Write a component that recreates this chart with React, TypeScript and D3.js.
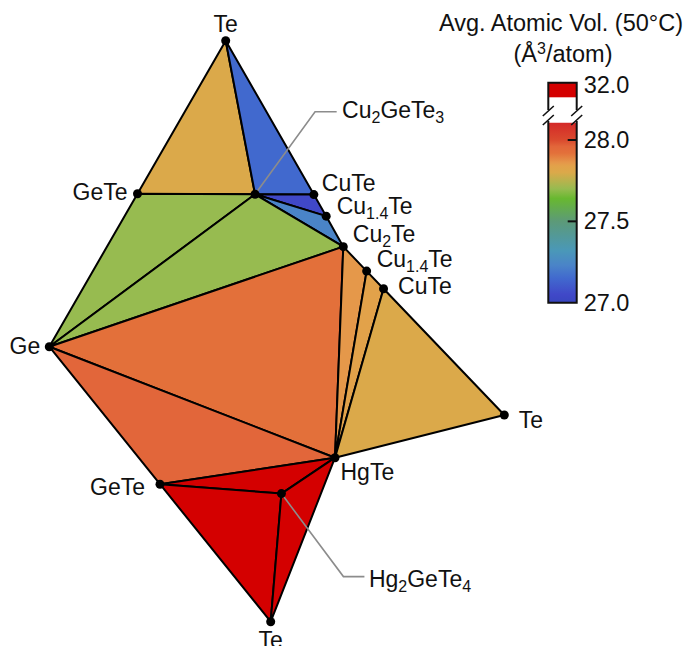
import React from "react";
import * as d3 from "d3";

// ---------- data ----------
// Phases shown on the unfolded Cu–Ge–Hg–Te composition diagram.
// Each node lives on one ternary face; composition is given as fractions of that face's corners.
const nodeIds = ["TeA", "GeTeA", "Cu2GeTe3", "CuTeA", "Cu14TeA", "Ge", "Cu2Te", "Cu14TeB", "CuTeB", "TeB", "HgTe", "GeTeC", "Hg2GeTe4", "TeC"];
const nodeLabels = ["Te", "GeTe", "Cu_{2}GeTe_{3}", "CuTe", "Cu_{1.4}Te", "Ge", "Cu_{2}Te", "Cu_{1.4}Te", "CuTe", "Te", "HgTe", "GeTe", "Hg_{2}GeTe_{4}", "Te"];
const nodeFaces = ["GeTeCu", "GeTeCu", "GeTeCu", "GeTeCu", "GeTeCu", "GeTeCu", "HgTeCu", "HgTeCu", "HgTeCu", "HgTeCu", "HgTeCu", "GeTeHg", "GeTeHg", "GeTeHg"];
const nodeCompositions: number[][] = [
  [0, 1, 0],
  [0.5, 0.5, 0],
  [1 / 6, 0.5, 1 / 3],
  [0, 0.5, 0.5],
  [0, 0.43, 0.57],
  [1, 0, 0],
  [0, 1 / 3, 2 / 3],
  [0, 0.43, 0.57],
  [0, 0.5, 0.5],
  [0, 1, 0],
  [0.5, 0.5, 0],
  [0.5, 0.5, 0],
  [0.12, 0.59, 0.29],
  [0, 1, 0],
];

// Phase-field triangles and their average atomic volume (Å^3/atom, 50 °C)
const regionNodes: string[][] = [
  ["TeA", "GeTeA", "Cu2GeTe3"],
  ["TeA", "Cu2GeTe3", "CuTeA"],
  ["Cu2GeTe3", "CuTeA", "Cu14TeA"],
  ["Cu2GeTe3", "Cu14TeA", "Cu2Te"],
  ["GeTeA", "Cu2GeTe3", "Ge"],
  ["Ge", "Cu2GeTe3", "Cu2Te"],
  ["Ge", "Cu2Te", "HgTe"],
  ["Ge", "HgTe", "GeTeC"],
  ["Cu2Te", "Cu14TeB", "HgTe"],
  ["Cu14TeB", "CuTeB", "HgTe"],
  ["CuTeB", "TeB", "HgTe"],
  ["GeTeC", "HgTe", "Hg2GeTe4"],
  ["GeTeC", "Hg2GeTe4", "TeC"],
  ["Hg2GeTe4", "HgTe", "TeC"],
];
const regionVolumes = [27.8, 27.15, 27.05, 27.23, 27.7, 27.7, 27.92, 27.96, 27.86, 27.84, 27.8, 32.0, 32.0, 32.0];

// Colour map for the volume scale
const colorStopValues = [27.0, 27.05, 27.15, 27.23, 27.32, 27.5, 27.64, 27.7, 27.8, 27.84, 27.86, 27.92, 27.96, 28.0, 28.11];
const colorStopColors = ["#3846bf", "#4048c8", "#4169ce", "#4a84c8", "#4a98b8", "#5c9a78", "#68b830", "#97bb50", "#dba94a", "#e2a24a", "#e5984a", "#e3703a", "#e2663a", "#da4a2e", "#d42828"];
const breakValue = 32.0;
const breakColor = "#d40000";
const tickValues = [27.0, 27.5, 28.0];
const tickLabels = ["27.0", "27.5", "28.0"];
const breakLabel = "32.0";

// ---------- layout ----------
const FONT = "'Liberation Sans', Arial, Helvetica, sans-serif";
const FS = 23;
const SUB_FS = 16;
const SUB_DY = 5;
const CB_FS = 23.5;

// corner pixel positions of each ternary face: [first element, Te, third element]
const faceCorners: Record<string, [number, number][]> = {
  GeTeCu: [[49.3, 346.7], [225.7, 40.7], [402, 348.5]],
  HgTeCu: [[165.7, 500.4], [504.3, 415], [262.8, 162.5]],
  GeTeHg: [[49.3, 346.7], [270.7, 621.7], [399.3, 293.7]],
};

// label placement relative to its node: [dx, dy, anchor]
const labelOffsets: Record<string, [number, number, string]> = {
  TeA: [0, -9, "middle"],
  GeTeA: [-10, 6, "end"],
  Cu2GeTe3: [87, -76, "start"],
  CuTeA: [8, -4, "start"],
  Cu14TeA: [10.5, -2, "start"],
  Ge: [-9, 7, "end"],
  Cu2Te: [9.5, -5, "start"],
  Cu14TeB: [10, -4, "start"],
  CuTeB: [14.5, 5, "start"],
  TeB: [14.5, 13, "start"],
  HgTe: [5.5, 22, "start"],
  GeTeC: [-15, 11, "end"],
  Hg2GeTe4: [87.5, 93, "start"],
  TeC: [0, 26.5, "middle"],
};
// leader lines: elbow and end offsets relative to node
const leaders: Record<string, [number, number][]> = {
  Cu2GeTe3: [[60, -82.6], [81.6, -82.6]],
  Hg2GeTe4: [[62, 83], [83, 83]],
};

const cbX = 548.3;
const cbW = 28.4;
const cbTop = 82.7;
const cbBreakBlockBottom = 97.3;
const cbGradTopValue = 28.106;

function ternary(face: string) {
  const [a, b, c] = faceCorners[face];
  return (f: number[]): [number, number] => [
    f[0] * a[0] + f[1] * b[0] + f[2] * c[0],
    f[0] * a[1] + f[1] * b[1] + f[2] * c[1],
  ];
}

function Formula({ text, x, y, anchor }: { text: string; x: number; y: number; anchor: string }) {
  const parts = text.split(/(_\{[^}]*\})/).filter(Boolean);
  let shifted = false;
  return (
    <text x={x} y={y} textAnchor={anchor} fontSize={FS} fontFamily={FONT} fill="#111">
      {parts.map((p, i) => {
        const sub = p.startsWith("_{");
        const content = sub ? p.slice(2, -1) : p;
        let dy = 0;
        if (sub && !shifted) {
          dy = SUB_DY;
          shifted = true;
        } else if (!sub && shifted) {
          dy = -SUB_DY;
          shifted = false;
        }
        return (
          <tspan key={i} dy={dy} fontSize={sub ? SUB_FS : FS}>
            {content}
          </tspan>
        );
      })}
    </text>
  );
}

export default function App() {
  const pos: Record<string, [number, number]> = {};
  nodeIds.forEach((id, i) => {
    pos[id] = ternary(nodeFaces[i])(nodeCompositions[i]);
  });

  const color = d3
    .scaleLinear<string>()
    .domain(colorStopValues)
    .range(colorStopColors)
    .interpolate(d3.interpolateRgb)
    .clamp(true);
  const fillFor = (v: number) => (v >= breakValue - 1 ? breakColor : color(v));

  const line = d3.line().curve(d3.curveLinearClosed);
  const open = d3.line();

  const cbY = d3.scaleLinear().domain([27, 28]).range([302.7, 140]);
  const gradTop = cbY(cbGradTopValue);
  const cbBottom = cbY(27);
  const cbRight = cbX + cbW;
  const gradStops = colorStopValues.filter((v) => v <= cbGradTopValue).concat([cbGradTopValue]);

  const slash = (x: number, y: number) => `M${x - 5.5},${y + 5}L${x + 5.5},${y - 5}`;
  const breakA = 110;
  const breakB = 121;

  return (
    <svg width={686} height={646} style={{ position: "absolute", left: 0, top: 0, background: "#fff" }}>
      <defs>
        <linearGradient id="volGrad" x1="0" y1="1" x2="0" y2="0">
          {gradStops.map((v, i) => (
            <stop key={i} offset={(v - 27) / (cbGradTopValue - 27)} stopColor={color(v)} />
          ))}
        </linearGradient>
      </defs>

      {/* phase-field triangles */}
      <g strokeLinejoin="round">
        {regionNodes.map((ids, i) => (
          <path
            key={i}
            d={line(ids.map((id) => pos[id])) as string}
            fill={fillFor(regionVolumes[i])}
            stroke="#000"
            strokeWidth={2}
          />
        ))}
      </g>

      {/* leader lines */}
      {Object.entries(leaders).map(([id, pts]) => {
        const [nx, ny] = pos[id];
        const path = [[nx, ny] as [number, number]].concat(pts.map(([dx, dy]) => [nx + dx, ny + dy] as [number, number]));
        return <path key={id} d={open(path) as string} fill="none" stroke="#8c8c8c" strokeWidth={1.6} />;
      })}

      {/* phase points */}
      {nodeIds.map((id) => (
        <circle key={id} cx={pos[id][0]} cy={pos[id][1]} r={4.5} fill="#000" />
      ))}

      {/* phase labels */}
      {nodeIds.map((id, i) => {
        const [dx, dy, anchor] = labelOffsets[id];
        return <Formula key={id} text={nodeLabels[i]} x={pos[id][0] + dx} y={pos[id][1] + dy} anchor={anchor} />;
      })}

      {/* colour bar */}
      <g>
        <text x={561} y={31} textAnchor="middle" fontSize={CB_FS} fontFamily={FONT} fill="#111">
          Avg. Atomic Vol. (50°C)
        </text>
        <text x={563} y={62} textAnchor="middle" fontSize={CB_FS} fontFamily={FONT} fill="#111">
          (Å<tspan dy={-8} fontSize={16}>3</tspan>
          <tspan dy={8}>/atom)</tspan>
        </text>

        <rect x={cbX} y={cbTop} width={cbW} height={cbBreakBlockBottom - cbTop} fill={breakColor} />
        <rect x={cbX} y={gradTop} width={cbW} height={cbBottom - gradTop} fill="url(#volGrad)" />
        <path
          d={`M${cbX},${breakA}V${cbTop}H${cbRight}V${breakA}M${cbX},${breakB}V${cbBottom}H${cbRight}V${breakB}`}
          fill="none"
          stroke="#111"
          strokeWidth={2}
        />
        {[cbX, cbRight].map((x) => (
          <path key={x} d={slash(x, breakA + 1) + slash(x, breakB - 1)} stroke="#111" strokeWidth={1.6} fill="none" />
        ))}
        {tickValues.map((v, i) => (
          <g key={v}>
            {v > 27 && <line x1={cbRight - 9} x2={cbRight} y1={cbY(v)} y2={cbY(v)} stroke="#111" strokeWidth={2} />}
            <text x={cbRight + 7} y={cbY(v) + 8} fontSize={CB_FS} fontFamily={FONT} fill="#111">
              {tickLabels[i]}
            </text>
          </g>
        ))}
        <text x={cbRight + 7} y={93} fontSize={CB_FS} fontFamily={FONT} fill="#111">
          {breakLabel}
        </text>
      </g>
    </svg>
  );
}
